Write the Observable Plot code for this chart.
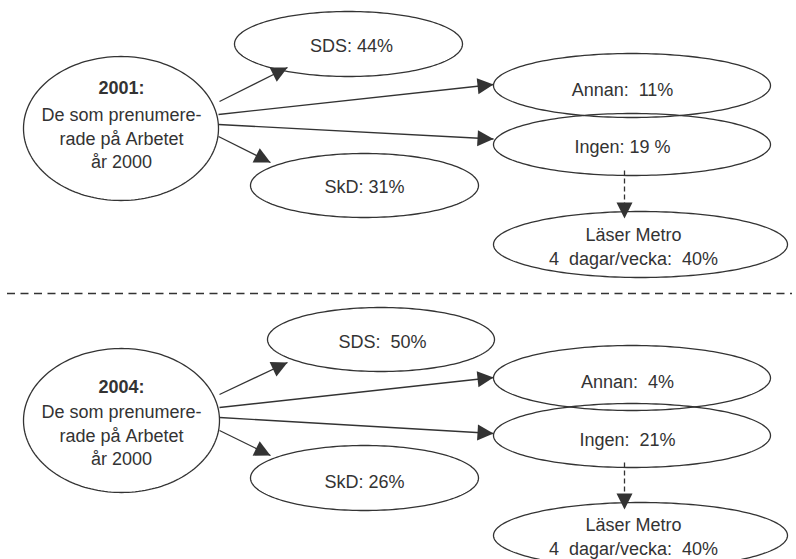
<!DOCTYPE html>
<html><head><meta charset="utf-8">
<script src="https://cdn.jsdelivr.net/npm/d3@7"></script>
<script src="https://cdn.jsdelivr.net/npm/@observablehq/plot@0.6"></script>
<style>body{margin:0;background:#fff} svg{display:block}</style>
</head><body><div id="chart"></div>
<script>
// ---- data ----
const years = ["2001", "2004"];
const sourceText = "De som prenumere-\nrade på Arbetet\når 2000";
const sdsShare = [44, 50];
const annanShare = [11, 4];
const ingenShare = [19, 21];
const skdShare = [31, 26];
const metroShare = [40, 40];
const metroText = "Läser Metro";
const metroUnit = "4  dagar/vecka:";
// label spacing exactly as printed
const sdsLabels = ["SDS: " + sdsShare[0] + "%", "SDS:  " + sdsShare[1] + "%"];
const annanLabels = ["Annan:  " + annanShare[0] + "%", "Annan:  " + annanShare[1] + "%"];
const ingenLabels = ["Ingen: " + ingenShare[0] + " %", "Ingen:  " + ingenShare[1] + "%"];
const skdLabels = ["SkD: " + skdShare[0] + "%", "SkD: " + skdShare[1] + "%"];
const metroLabels = metroShare.map(v => metroText + "\n" + metroUnit + "  " + v + "%");

// ---- layout (diagram geometry) ----
const layout = [
  { // 2001 panel
    src: {cx: 120.5, cy: 128, rx: 97.5, ry: 72, tx: 121, ty: 88, by: 136.5},
    sds: {cx: 348, cy: 43.5, rx: 114, ry: 32.5, tx: 351, ty: 44},
    annan: {cx: 631.5, cy: 85, rx: 138.5, ry: 32, tx: 622, ty: 88},
    ingen: {cx: 631.5, cy: 144, rx: 138.5, ry: 31, tx: 622, ty: 145},
    skd: {cx: 364, cy: 185, rx: 114, ry: 32, tx: 364, ty: 185},
    metro: {cx: 640, cy: 244, rx: 147, ry: 33, tx: 633, ty: 245},
    arrows: [[219,101,287,67],[218,114,493,84],[218,124,493,138.5],[218,136,270,162]],
    dashed: [624,170,624,218]
  },
  { // 2004 panel
    src: {cx: 121, cy: 420, rx: 98, ry: 72, tx: 121, ty: 387, by: 433.5},
    sds: {cx: 380.5, cy: 339, rx: 113.5, ry: 32, tx: 382, ty: 340},
    annan: {cx: 631.5, cy: 377.5, rx: 138.5, ry: 32.5, tx: 627, ty: 380},
    ingen: {cx: 631.5, cy: 435, rx: 138.5, ry: 32, tx: 627, ty: 438},
    skd: {cx: 364, cy: 477.5, rx: 114, ry: 32.5, tx: 364, ty: 480},
    metro: {cx: 640, cy: 535, rx: 147, ry: 33, tx: 633, ty: 535},
    arrows: [[219,394,287,362],[219,407,493,377],[219,417,493,433],[219,430,270,455]],
    dashed: [624,462,624,509]
  }
];
const dividerY = 293;

// ---- build mark data ----
const ellipsePts = [];
const texts = [];
const titles = [];
const links = [];
const dashedLinks = [];
layout.forEach((p, i) => {
  ["src","sds","annan","ingen","skd","metro"].forEach(k => {
    const e = p[k];
    for (let a = 0; a < 180; a++) {
      const t = a / 180 * 2 * Math.PI;
      ellipsePts.push({id: i + k, x: e.cx + e.rx * Math.cos(t), y: e.cy + e.ry * Math.sin(t)});
    }
  });
  titles.push({x: p.src.tx, y: p.src.ty, text: years[i] + ":"});
  texts.push({x: p.src.tx, y: p.src.by, text: sourceText});
  texts.push({x: p.sds.tx, y: p.sds.ty, text: sdsLabels[i]});
  texts.push({x: p.annan.tx, y: p.annan.ty, text: annanLabels[i]});
  texts.push({x: p.ingen.tx, y: p.ingen.ty, text: ingenLabels[i]});
  texts.push({x: p.skd.tx, y: p.skd.ty, text: skdLabels[i]});
  texts.push({x: p.metro.tx, y: p.metro.ty, text: metroLabels[i]});
  p.arrows.forEach(([x1,y1,x2,y2]) => links.push({x1,y1,x2,y2}));
  const [x1,y1,x2,y2] = p.dashed;
  dashedLinks.push({x1,y1,x2,y2});
});
texts.forEach(d => d.text = d.text.replace(/ /g, "\u00a0"));
const heads = links.concat(dashedLinks).map(d => ({x: d.x2, y: d.y2, angle: Math.atan2(d.y2 - d.y1, d.x2 - d.x1) * 180 / Math.PI}));
const arrowHead = {draw(ctx) { ctx.moveTo(0, 0); ctx.lineTo(-16, -8); ctx.lineTo(-16, 8); ctx.closePath(); }};

const ink = "#333";
const font = "'Liberation Sans', Arial, Helvetica, sans-serif";
const chart = Plot.plot({
  width: 796, height: 559, margin: 0,
  x: {domain: [0, 796], range: [0, 796], axis: null},
  y: {domain: [0, 559], range: [0, 559], axis: null},
  style: {fontFamily: font, background: "#fff"},
  marks: [
    Plot.ruleY([dividerY], {x1: 7, x2: 792, stroke: ink, strokeWidth: 1.3, strokeDasharray: "8,5.5"}),
    Plot.line(ellipsePts, {x: "x", y: "y", z: "id", curve: "linear-closed", stroke: ink, strokeWidth: 1.3}),
    Plot.link(links, {x1: "x1", y1: "y1", x2: "x2", y2: "y2", stroke: ink, strokeWidth: 1.3}),
    Plot.link(dashedLinks, {x1: "x1", y1: "y1", x2: "x2", y2: "y2", stroke: ink, strokeWidth: 1.3, strokeDasharray: "5,3"}),
    Plot.dot(heads, {x: "x", y: "y", rotate: "angle", symbol: arrowHead, fill: ink, stroke: "none"}),
    Plot.text(titles, {x: "x", y: "y", text: "text", fontSize: 18, fontWeight: "bold", fill: ink, fontFamily: font}),
    Plot.text(texts, {x: "x", y: "y", text: "text", fontSize: 18, lineHeight: 1.31, fill: ink, fontFamily: font})
  ]
});
document.getElementById("chart").append(chart);
</script>
</body></html>
